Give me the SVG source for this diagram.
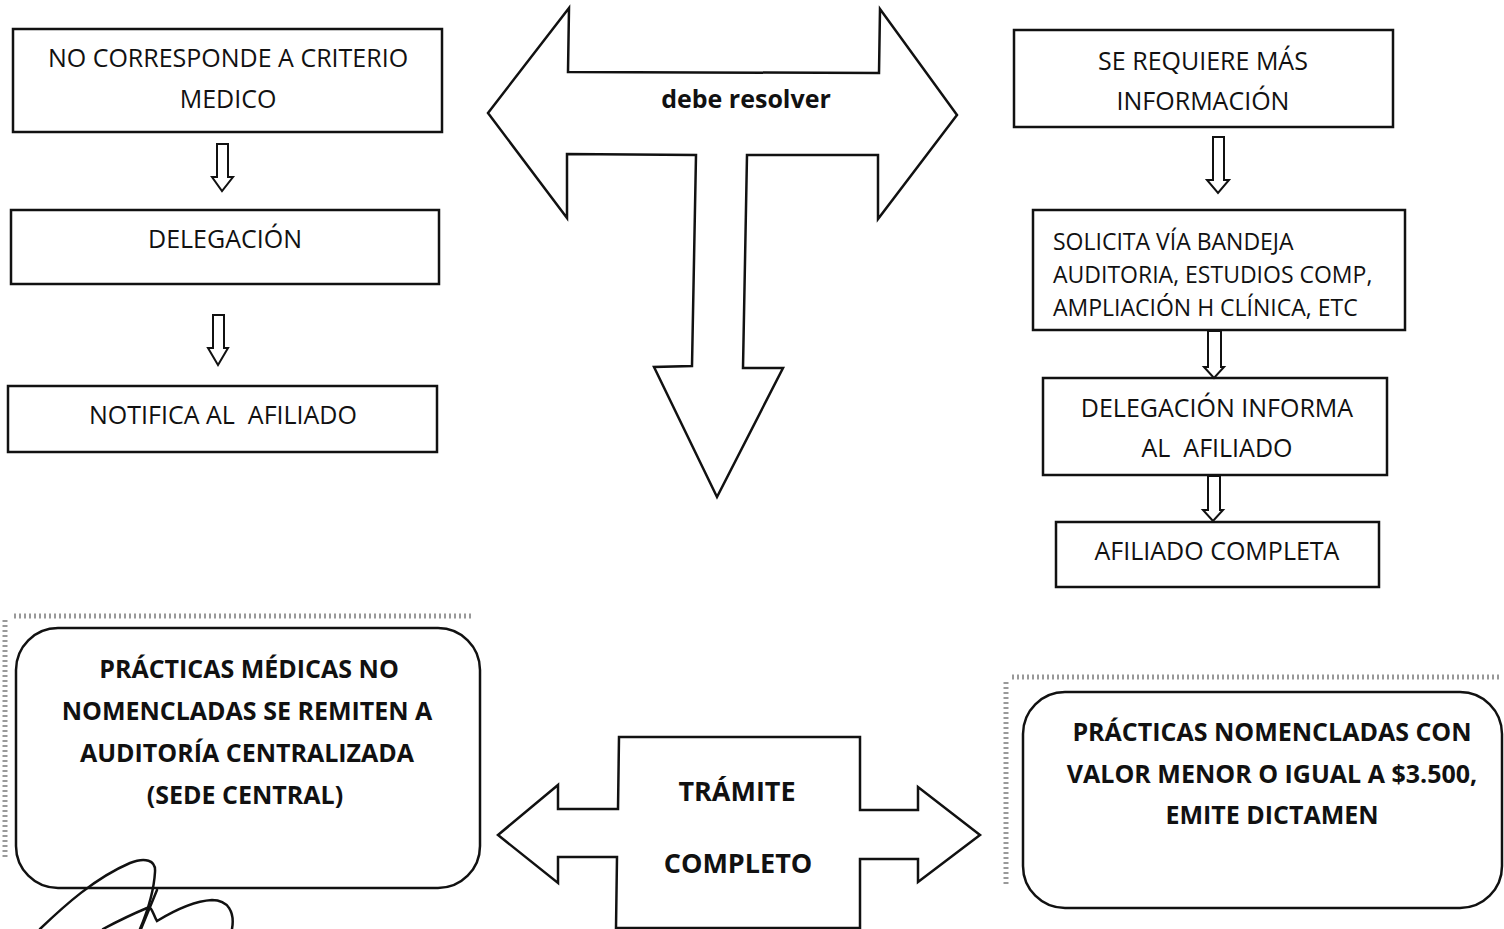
<svg xmlns="http://www.w3.org/2000/svg" width="1504" height="929" viewBox="0 0 1504 929">
<style>
.box{fill:#fff;stroke:#111;stroke-width:2.5}
.blk{fill:#fff;stroke:#111;stroke-width:2.5;stroke-linejoin:miter}
.sm{fill:#fff;stroke:#111;stroke-width:2}
.t{font-family:"Open Sans","Liberation Sans",sans-serif;font-size:25px;fill:#111;text-anchor:middle}
.ts{font-family:"Open Sans","Liberation Sans",sans-serif;font-size:23px;fill:#111}
.b{font-family:"Open Sans","Liberation Sans",sans-serif;font-size:25px;font-weight:bold;fill:#111;text-anchor:middle}
.bl{font-size:27px}
.noise{fill:none;stroke:#999;stroke-width:5;stroke-dasharray:2 3}
.sig{fill:none;stroke:#111;stroke-width:2.5;stroke-linecap:round}
</style>
<rect width="1504" height="929" fill="#fff"/>
<g id="noise">
<path class="noise" d="M14 616 H472 M5 620 V860"/>
<path class="noise" d="M1012 677 H1500 M1006 682 V885"/>
</g>
<g id="n-criterio">
<rect class="box" x="13" y="29" width="429" height="103"/>
<text class="t" x="228" y="67">NO CORRESPONDE A CRITERIO</text>
<text class="t" x="228" y="108">MEDICO</text>
</g>
<g id="n-delegacion">
<rect class="box" x="11" y="210" width="428" height="74"/>
<text class="t" x="225" y="248">DELEGACIÓN</text>
</g>
<g id="n-notifica">
<rect class="box" x="8" y="386" width="429" height="66"/>
<text class="t" x="223" y="424" xml:space="preserve">NOTIFICA AL  AFILIADO</text>
</g>
<g id="n-debe-resolver">
<polygon class="blk" points="488,113 569,8 568,72 879,73 880,9 957,115 878,219 878,155 747,155 743,368 783,368 717,497 654,367 692,366 696,155 567,154 567,218"/>
<text class="b" x="746" y="108">debe resolver</text>
</g>
<g id="n-mas-info">
<rect class="box" x="1014" y="30" width="379" height="97"/>
<text class="t" x="1203" y="70">SE REQUIERE MÁS</text>
<text class="t" x="1203" y="110">INFORMACIÓN</text>
</g>
<g id="n-solicita">
<rect class="box" x="1033" y="210" width="372" height="120"/>
<text class="ts" x="1053" y="250">SOLICITA VÍA BANDEJA</text>
<text class="ts" x="1053" y="283">AUDITORIA, ESTUDIOS COMP,</text>
<text class="ts" x="1053" y="316">AMPLIACIÓN H CLÍNICA, ETC</text>
</g>
<g id="n-deleg-informa">
<rect class="box" x="1043" y="378" width="344" height="97"/>
<text class="t" x="1217" y="417">DELEGACIÓN INFORMA</text>
<text class="t" x="1217" y="457" xml:space="preserve">AL  AFILIADO</text>
</g>
<g id="n-afiliado-completa">
<rect class="box" x="1056" y="522" width="323" height="65"/>
<text class="t" x="1217" y="560">AFILIADO COMPLETA</text>
</g>
<g id="n-no-nomencladas">
<rect class="box" x="16" y="628" width="464" height="260" rx="42"/>
<text class="b" x="249" y="678">PRÁCTICAS MÉDICAS NO</text>
<text class="b" x="247" y="720">NOMENCLADAS SE REMITEN A</text>
<text class="b" x="247" y="762">AUDITORÍA CENTRALIZADA</text>
<text class="b" x="245" y="804">(SEDE CENTRAL)</text>
</g>
<g id="n-tramite">
<polygon class="blk" points="498,835 558,785 558,809 618,809 619,737 860,737 860,810 918,810 918,787 980,835 918,882 918,859 860,859 860,928 616,928 617,857 558,857 558,883"/>
<text class="b bl" x="737" y="801">TRÁMITE</text>
<text class="b bl" x="738" y="873">COMPLETO</text>
</g>
<g id="n-nomencladas">
<rect class="box" x="1023" y="692" width="479" height="216" rx="42"/>
<text class="b" x="1272" y="741">PRÁCTICAS NOMENCLADAS CON</text>
<text class="b" x="1272" y="783">VALOR MENOR O IGUAL A $3.500,</text>
<text class="b" x="1272" y="824">EMITE DICTAMEN</text>
</g>
<g id="connectors">
<polygon class="sm" points="217,144 228,144 228,177 233,177 222,191 212,177 217,177"/>
<polygon class="sm" points="213,315 224,315 224,348 228,348 218,365 208,348 213,348"/>
<polygon class="sm" points="1213,137 1224,137 1224,180 1229,180 1218,193 1207,180 1213,180"/>
<polygon class="sm" points="1208,331 1221,331 1221,367 1224,367 1214,378 1204,367 1208,367"/>
<polygon class="sm" points="1208,476 1220,476 1220,510 1223,510 1213,521 1203,510 1208,510"/>
</g>
<g id="signature">
<path class="sig" d="M40 929 C65 905 95 878 130 863 C145 857 156 860 155 872 C154 890 148 910 140 929"/>
<path class="sig" d="M103 929 C120 920 135 913 147 908 C152 905 153 915 157 921 C175 910 195 901 212 900 C228 900 235 912 232 929"/>
<path class="sig" d="M157 890 L141 929"/>
</g>
</svg>
